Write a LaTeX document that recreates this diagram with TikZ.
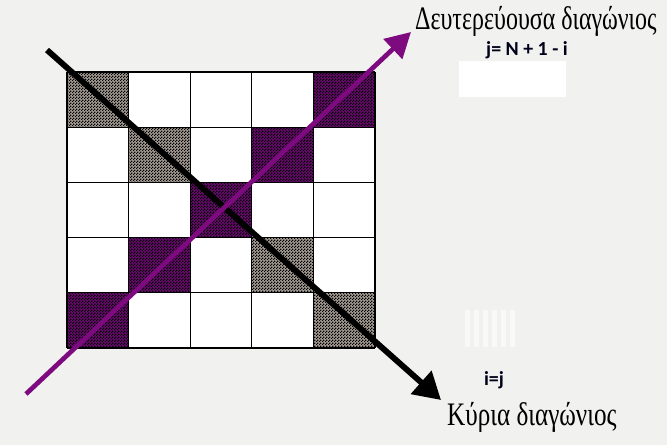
\documentclass[tikz,border=0pt]{standalone}
\usepackage{fontspec}
\setmainfont{Liberation Serif}
\newfontfamily\formfont{Carlito}
\usetikzlibrary{arrows.meta,patterns}

\definecolor{paper}{HTML}{F1F1F0}
\definecolor{diagpurple}{HTML}{7E0A80}
\definecolor{cellgray}{HTML}{A49C94}
\definecolor{cellpurple}{HTML}{660A6C}

% fine checkerboard for the shaded cells
\pgfdeclarepatternformonly{finechecker}{\pgfpointorigin}{\pgfqpoint{2.6pt}{2.6pt}}{\pgfqpoint{2.6pt}{2.6pt}}{
    \pgfpathrectangle{\pgfpointorigin}{\pgfqpoint{1.3pt}{1.3pt}}
    \pgfpathrectangle{\pgfqpoint{1.3pt}{1.3pt}}{\pgfqpoint{1.3pt}{1.3pt}}
    \pgfusepath{fill}
}

\tikzset{
  graycell/.style={fill=cellgray, postaction={pattern=finechecker, pattern color=black}},
  purplecell/.style={fill=cellpurple, postaction={pattern=finechecker, pattern color=black}},
  greeklabel/.style={font=\fontsize{28}{30}\selectfont, xscale=0.73, inner sep=0pt},
  formlabel/.style={font=\formfont\bfseries\fontsize{17}{19}\selectfont, text=black!90!blue, inner sep=0pt},
}

\begin{document}
\begin{tikzpicture}[x=0.03cm, y=-0.03cm]
    % Page and background
    \fill[paper] (0, 0) rectangle (667, 445);
    \useasboundingbox (0, 0) rectangle (667, 445);

    % Blank patches in the background
    \fill[white] (459, 61) rectangle (566, 97);
    \foreach \sx in {465, 474, 483, 492, 501, 510}
        \fill[white!55!paper] (\sx, 310) rectangle ++(5, 37);

    % 5x5 matrix: white cells first
    \fill[white] (67, 72) rectangle (375, 348);

    % Main diagonal (i=j)
    \foreach \k in {1, 2, 4, 5}
        \fill[graycell] ({67+61.6*(\k-1)}, {72+55.2*(\k-1)}) rectangle ++(61.6, 55.2);

    % Secondary diagonal (j = N+1-i)
    \foreach \k in {1, 2, 3, 4, 5}
        \fill[purplecell] ({67+61.6*(5-\k)}, {72+55.2*(\k-1)}) rectangle ++(61.6, 55.2);

    % Grid lines
    \foreach \k in {0, ..., 5} {
        \draw[line width=0.9pt] ({67+61.6*\k}, 72) -- ({67+61.6*\k}, 348);
        \draw[line width=0.9pt] (67, {72+55.2*\k}) -- (375, {72+55.2*\k});
    }

    % Arrow end points
    \coordinate (mainstart) at (47, 50);
    \coordinate (mainend) at (441, 400);
    \coordinate (secstart) at (26, 394);
    \coordinate (secend) at (411, 32);

    % Diagonal arrows
    \draw[line width=5pt, -{Triangle[length=0.8cm, width=0.9cm]}] (mainstart) -- (mainend);
    \draw[line width=4pt, diagpurple, -{Triangle[length=0.75cm, width=0.8cm]}] (secstart) -- (secend);

    % Labels
    \node[greeklabel, anchor=base west] (secdiag) at (415, 29) {Δευτερεύουσα διαγώνιος};
    \node[formlabel] (secform) at (527, 50) {j= N + 1 - i};
    \node[formlabel] (mainform) at (494, 380) {i=j};
    \node[greeklabel, xscale=1.05, anchor=base west] (maindiag) at (447, 425) {Κύρια διαγώνιος};
\end{tikzpicture}
\end{document}
